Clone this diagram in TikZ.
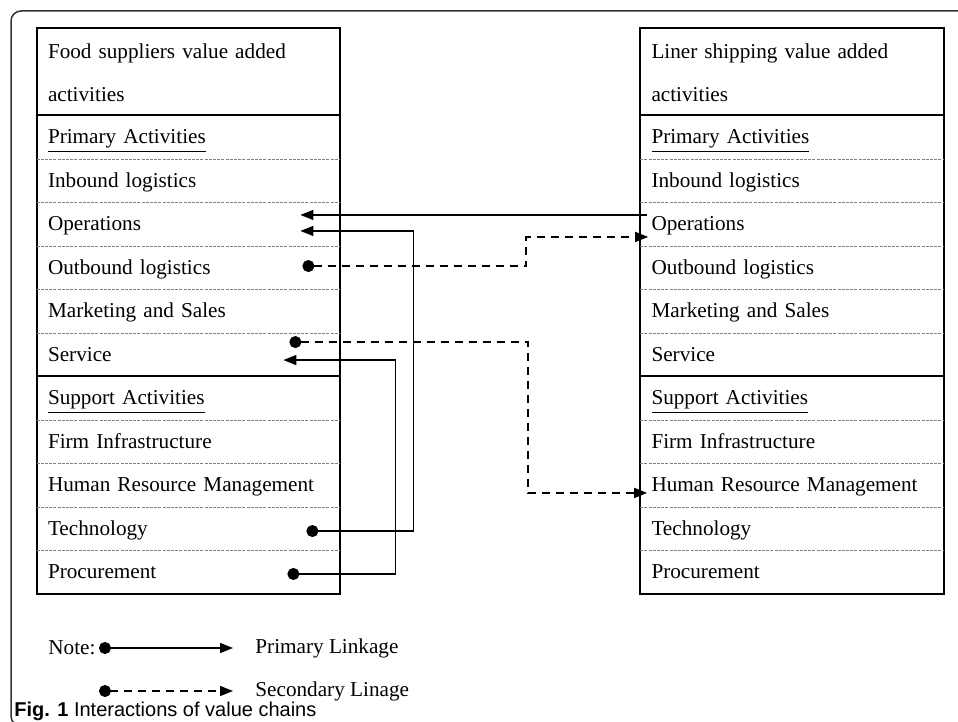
\documentclass[tikz,border=0pt]{standalone}
\usepackage{fontspec}
\setmainfont{Liberation Serif}
\newfontfamily\capfont{Liberation Sans}
\usetikzlibrary{arrows.meta}

\begin{document}
\begin{tikzpicture}[x=0.5pt,y=-0.5pt,
  cell/.style={inner xsep=5.5pt, inner ysep=0pt, text width=140.5pt, align=left, font=\fontsize{10.6}{21.75}\selectfont},
  row/.style={cell, minimum height=21.75pt, text height=8.2pt, text depth=1pt},
  head/.style={cell, minimum height=43.5pt},
  sub/.style={draw=gray, line width=.4pt, dash pattern=on 1.5pt off .6pt},
  boxline/.style={line width=1pt},
  prim/.style={line width=.8pt, -{Triangle[length=\arl, width=\arw]}},
  sec/.style={prim, dash pattern=on 4pt off 3pt},
  fromdot/.style={{Circle[length=\dotd]}-{Triangle[length=\arl, width=\arw]}}]
\def\arl{6.5pt}
\def\arw{5pt}
\def\dotd{6pt}
\useasboundingbox (0,0) rectangle (958,722);
\clip (0,0) rectangle (958,722);
\draw[line width=.75pt, black!80, rounded corners=5pt] (11,11) rectangle (990,726);

% food suppliers
\node [head, name=fs-title] at (188.5,72.5) {Food suppliers value added\\activities};
\node [row, name=fs-pri]   at (188.5,136.75) {\underline{Primary Activities}};
\node [row, name=fs-in]    at (188.5,180.25) {Inbound logistics};
\node [row, name=fs-op]    at (188.5,223.75) {Operations};
\node [row, name=fs-out]   at (188.5,267.25) {Outbound logistics};
\node [row, name=fs-mkt]   at (188.5,310.75) {Marketing and Sales};
\node [row, name=fs-srv]   at (188.5,354.25) {Service};
\node [row, name=fs-sup]   at (188.5,397.75) {\underline{Support Activities}};
\node [row, name=fs-firm]  at (188.5,441.25) {Firm Infrastructure};
\node [row, name=fs-hrm]   at (188.5,484.75) {Human Resource Management};
\node [row, name=fs-tech]  at (188.5,528.25) {Technology};
\node [row, name=fs-proc]  at (188.5,571.75) {Procurement};

% liner shipping
\node [head, name=ls-title] at (792,72.5) {Liner shipping value added\\activities};
\node [row, name=ls-pri]   at (792,136.75) {\underline{Primary Activities}};
\node [row, name=ls-in]    at (792,180.25) {Inbound logistics};
\node [row, name=ls-op]    at (792,223.75) {Operations};
\node [row, name=ls-out]   at (792,267.25) {Outbound logistics};
\node [row, name=ls-mkt]   at (792,310.75) {Marketing and Sales};
\node [row, name=ls-srv]   at (792,354.25) {Service};
\node [row, name=ls-sup]   at (792,397.75) {\underline{Support Activities}};
\node [row, name=ls-firm]  at (792,441.25) {Firm Infrastructure};
\node [row, name=ls-hrm]   at (792,484.75) {Human Resource Management};
\node [row, name=ls-tech]  at (792,528.25) {Technology};
\node [row, name=ls-proc]  at (792,571.75) {Procurement};

\foreach \b in {fs,ls}{
  \draw[boxline] ([yshift=.5pt]\b-title.north west) rectangle (\b-proc.south east);
  \draw[boxline] (\b-pri.north west) -- (\b-pri.north east);
  \draw[boxline] (\b-srv.south west) -- (\b-srv.south east);
  \foreach \r in {pri,in,op,out,mkt,sup,firm,hrm,tech}
    \draw[sub] (\b-\r.south west) -- (\b-\r.south east);
}

% linkages
\draw [prim] ([xshift=3.5pt,yshift=4.4pt]ls-op.west) -- ([xshift=-20pt,yshift=4.4pt]fs-op.east);
\draw [prim, fromdot] ([xshift=-17pt,yshift=-1.4pt]fs-tech.east) -| ([xshift=36.5pt,yshift=-3.6pt]fs-op.east) -- ([xshift=-20pt,yshift=-3.6pt]fs-op.east);
\draw [prim, fromdot] ([xshift=-26.5pt,yshift=-1.1pt]fs-proc.east) -| ([xshift=27.5pt,yshift=-2.9pt]fs-srv.east) -- ([xshift=-28.5pt,yshift=-2.9pt]fs-srv.east);
\draw [sec, fromdot] ([xshift=-19pt,yshift=.6pt]fs-out.east) -| ([xshift=-57pt,yshift=-6.6pt]ls-op.west) -- ([xshift=4pt,yshift=-6.6pt]ls-op.west);
\draw [sec, fromdot] ([xshift=-25.5pt,yshift=6.1pt]fs-srv.east) -| ([xshift=-56pt,yshift=-4.1pt]ls-hrm.west) -- ([xshift=3.5pt,yshift=-4.1pt]ls-hrm.west);

% legend
\node [anchor=west, inner xsep=5.5pt, font=\fontsize{10.6}{12}\selectfont, name=note] at (37,648) {Note:};
\node [anchor=west, inner xsep=5.5pt, font=\fontsize{10.6}{12}\selectfont, name=pl] at (244,648) {Primary Linkage};
\node [anchor=west, inner xsep=5.5pt, font=\fontsize{10.6}{12}\selectfont, name=sl] at (244,691) {Secondary Linage};
\coordinate (pl-dot) at (99,648);
\coordinate (sl-dot) at (99,691);
\draw [prim, fromdot] (pl-dot) -- ([xshift=-5.5pt]pl.west);
\draw [sec, fromdot] (sl-dot) -- ([xshift=-5.5pt]sl.west);

\node [anchor=west, inner sep=0pt, font=\capfont\fontsize{10}{12}\selectfont, name=cap] at (14,711) {\textbf{Fig. 1} Interactions of value chains};
\end{tikzpicture}
\end{document}
